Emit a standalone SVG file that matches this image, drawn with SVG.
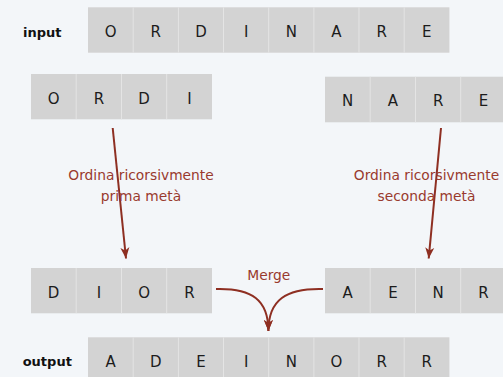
<svg xmlns="http://www.w3.org/2000/svg" width="503" height="377" viewBox="0 0 503 377">
  <style>
    .cell { fill: #d3d3d3; }
    .sep { stroke: #e4e4e4; stroke-width: 1; }
    .ch { font-family: "DejaVu Sans", Verdana, sans-serif; font-size: 15px; fill: #1c1c1c; text-anchor: middle; }
    .lbl { font-family: "DejaVu Sans", Verdana, sans-serif; font-size: 13px; font-weight: bold; fill: #111; }
    .note { font-family: "DejaVu Sans", Verdana, sans-serif; font-size: 13.8px; fill: #993a2e; text-anchor: middle; }
    .arrow { fill: none; stroke: #8e2f22; stroke-width: 2; }
  </style>
  <defs>
    <marker id="head" markerUnits="userSpaceOnUse" markerWidth="12" markerHeight="10" viewBox="0 0 12 10" refX="11" refY="5" orient="auto">
      <path d="M0,0.5 L11,5 L0,9.5 L3,5 Z" fill="#8e2f22"/>
    </marker>
  </defs>

  <rect width="503" height="377" fill="#f3f6f9"/>

  <!-- unsorted input -->
  <g id="input">
    <text class="lbl" x="23" y="36.5">input</text>
    <rect class="cell" x="88" y="7.3" width="361.4" height="45.4"/>
    <g class="sep">
      <line x1="133.2" y1="7.3" x2="133.2" y2="52.7"/>
      <line x1="178.4" y1="7.3" x2="178.4" y2="52.7"/>
      <line x1="223.5" y1="7.3" x2="223.5" y2="52.7"/>
      <line x1="268.7" y1="7.3" x2="268.7" y2="52.7"/>
      <line x1="313.9" y1="7.3" x2="313.9" y2="52.7"/>
      <line x1="359" y1="7.3" x2="359" y2="52.7"/>
      <line x1="404.2" y1="7.3" x2="404.2" y2="52.7"/>
    </g>
    <text class="ch" x="110.6" y="37.3">O</text>
    <text class="ch" x="155.8" y="37.3">R</text>
    <text class="ch" x="201" y="37.3">D</text>
    <text class="ch" x="246.1" y="37.3">I</text>
    <text class="ch" x="291.3" y="37.3">N</text>
    <text class="ch" x="336.5" y="37.3">A</text>
    <text class="ch" x="381.6" y="37.3">R</text>
    <text class="ch" x="426.8" y="37.3">E</text>
  </g>

  <!-- first half -->
  <g id="first-half">
    <rect class="cell" x="31" y="74" width="181" height="45.3"/>
    <g class="sep">
      <line x1="76.2" y1="74" x2="76.2" y2="119.3"/>
      <line x1="121.5" y1="74" x2="121.5" y2="119.3"/>
      <line x1="166.7" y1="74" x2="166.7" y2="119.3"/>
    </g>
    <text class="ch" x="53.6" y="103.7">O</text>
    <text class="ch" x="98.9" y="103.7">R</text>
    <text class="ch" x="144.1" y="103.7">D</text>
    <text class="ch" x="189.4" y="103.7">I</text>
  </g>

  <!-- second half -->
  <g id="second-half">
    <rect class="cell" x="325" y="76.7" width="182" height="45.6"/>
    <g class="sep">
      <line x1="370.2" y1="76.7" x2="370.2" y2="122.3"/>
      <line x1="415.5" y1="76.7" x2="415.5" y2="122.3"/>
      <line x1="460.7" y1="76.7" x2="460.7" y2="122.3"/>
    </g>
    <text class="ch" x="347.6" y="106.4">N</text>
    <text class="ch" x="392.9" y="106.4">A</text>
    <text class="ch" x="438.1" y="106.4">R</text>
    <text class="ch" x="483.4" y="106.4">E</text>
  </g>

  <!-- sorted first half -->
  <g id="sorted-first">
    <rect class="cell" x="31" y="268" width="181" height="45.3"/>
    <g class="sep">
      <line x1="76.2" y1="268" x2="76.2" y2="313.3"/>
      <line x1="121.5" y1="268" x2="121.5" y2="313.3"/>
      <line x1="166.7" y1="268" x2="166.7" y2="313.3"/>
    </g>
    <text class="ch" x="53.6" y="297.8">D</text>
    <text class="ch" x="98.9" y="297.8">I</text>
    <text class="ch" x="144.1" y="297.8">O</text>
    <text class="ch" x="189.4" y="297.8">R</text>
  </g>

  <!-- sorted second half -->
  <g id="sorted-second">
    <rect class="cell" x="325" y="268" width="182" height="45.3"/>
    <g class="sep">
      <line x1="370.2" y1="268" x2="370.2" y2="313.3"/>
      <line x1="415.5" y1="268" x2="415.5" y2="313.3"/>
      <line x1="460.7" y1="268" x2="460.7" y2="313.3"/>
    </g>
    <text class="ch" x="347.6" y="297.8">A</text>
    <text class="ch" x="392.9" y="297.8">E</text>
    <text class="ch" x="438.1" y="297.8">N</text>
    <text class="ch" x="483.4" y="297.8">R</text>
  </g>

  <!-- merged output -->
  <g id="output">
    <text class="lbl" x="22.7" y="365.7">output</text>
    <rect class="cell" x="88" y="337.3" width="361.4" height="45"/>
    <g class="sep">
      <line x1="133.2" y1="337.3" x2="133.2" y2="377"/>
      <line x1="178.4" y1="337.3" x2="178.4" y2="377"/>
      <line x1="223.5" y1="337.3" x2="223.5" y2="377"/>
      <line x1="268.7" y1="337.3" x2="268.7" y2="377"/>
      <line x1="313.9" y1="337.3" x2="313.9" y2="377"/>
      <line x1="359" y1="337.3" x2="359" y2="377"/>
      <line x1="404.2" y1="337.3" x2="404.2" y2="377"/>
    </g>
    <text class="ch" x="110.6" y="367">A</text>
    <text class="ch" x="155.8" y="367">D</text>
    <text class="ch" x="201" y="367">E</text>
    <text class="ch" x="246.1" y="367">I</text>
    <text class="ch" x="291.3" y="367">N</text>
    <text class="ch" x="336.5" y="367">O</text>
    <text class="ch" x="381.6" y="367">R</text>
    <text class="ch" x="426.8" y="367">R</text>
  </g>

  <!-- connectors -->
  <g id="connectors">
    <line class="arrow" x1="112.7" y1="128" x2="126" y2="258.5" marker-end="url(#head)"/>
    <line class="arrow" x1="441" y1="128" x2="428.7" y2="258.5" marker-end="url(#head)"/>
    <path class="arrow" d="M216,289 C252,288 268.4,300 268.4,331" marker-end="url(#head)"/>
    <path class="arrow" d="M323,289 C286,288 268.4,300 268.4,331" marker-end="url(#head)"/>
    <text class="note" x="141" y="179.8">Ordina ricorsivmente</text>
    <text class="note" x="141" y="200.5">prima metà</text>
    <text class="note" x="426.5" y="179.8">Ordina ricorsivmente</text>
    <text class="note" x="426.5" y="200.5">seconda metà</text>
    <text class="note" x="268.8" y="279.8">Merge</text>
  </g>
</svg>
